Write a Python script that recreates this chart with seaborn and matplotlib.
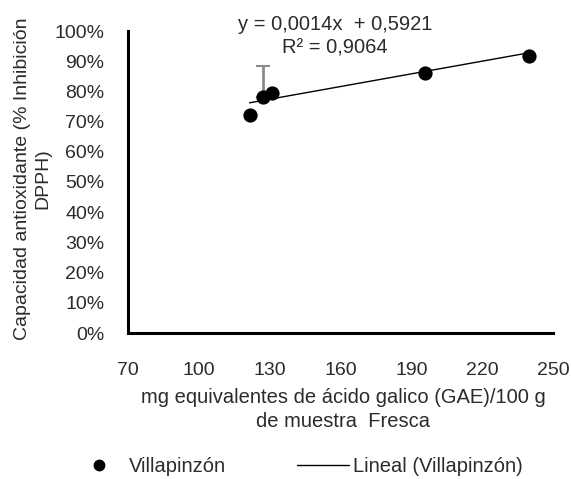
import numpy as np
import pandas as pd
import matplotlib
matplotlib.use("Agg")
import matplotlib.pyplot as plt
from matplotlib.lines import Line2D
from matplotlib.ticker import PercentFormatter
import seaborn as sns

# Polyphenol content vs antioxidant capacity (Villapinzón samples)
gae = [121.5, 127.3, 131.0, 195.8, 240.0]
inhibition = [0.722, 0.780, 0.794, 0.862, 0.917]
err_upper = [0.0, 0.105, 0.0, 0.0, 0.0]

# Linear trend reported for the series
slope = 0.0014
intercept = 0.5921
r_squared = 0.9064

x_ticks = [70, 100, 130, 160, 190, 220, 250]
y_ticks = [0.0, 0.1, 0.2, 0.3, 0.4, 0.5, 0.6, 0.7, 0.8, 0.9, 1.0]

series = "Villapinzón"
df = pd.DataFrame({"gae": gae, "inh": inhibition, "err": err_upper})

sns.set_theme(style="white")
plt.rcParams["font.family"] = ["Liberation Sans", "DejaVu Sans"]
TEXT_COLOR = "#2b2b2b"
plt.rcParams["text.color"] = TEXT_COLOR
plt.rcParams["axes.labelcolor"] = TEXT_COLOR

TICK_FS = 14
TITLE_FS = 14.5

fig = plt.figure(figsize=(5.71, 4.79), dpi=100)
ax = fig.add_axes([128 / 571, 1 - 333 / 479, 425 / 571, 302 / 479])

# Trend line drawn across the observed x range
x_fit = np.array([min(gae), max(gae)])
fit_df = pd.DataFrame({"gae": x_fit, "inh": slope * x_fit + intercept})
sns.lineplot(data=fit_df, x="gae", y="inh", ax=ax, color="black", lw=1.0,
             zorder=2, legend=False)

# Upper error bar
has_err = df[df["err"] > 0]
ax.errorbar(has_err["gae"], has_err["inh"],
            yerr=[np.zeros(len(has_err)), has_err["err"]],
            fmt="none", ecolor="#8c8c8c", elinewidth=2.0, capsize=5,
            capthick=1.5, zorder=1)

sns.scatterplot(data=df, x="gae", y="inh", ax=ax, color="black", s=105,
                edgecolor="black", linewidth=0, zorder=3, legend=False)

ax.set_xlim(70, 250)
ax.set_ylim(0, 1.0)
ax.set_xticks(x_ticks)
ax.set_yticks(y_ticks)
ax.yaxis.set_major_formatter(PercentFormatter(1.0, decimals=0))
ax.tick_params(axis="both", length=0, labelsize=TICK_FS, colors=TEXT_COLOR)
ax.tick_params(axis="y", pad=17)
ax.tick_params(axis="x", pad=21)

for side in ["top", "right"]:
    ax.spines[side].set_visible(False)
for side in ["left", "bottom"]:
    ax.spines[side].set_color("black")
    ax.spines[side].set_linewidth(2.2)
ax.grid(False)

ax.set_xlabel("mg equivalentes de ácido galico (GAE)/100 g\nde muestra  Fresca",
              fontsize=TITLE_FS, linespacing=1.3)
ax.xaxis.set_label_coords(0.506, -0.253)
ax.xaxis.label.set_va("center")
ax.set_ylabel("Capacidad antioxidante (% Inhibición\nDPPH)", fontsize=14,
              linespacing=1.25)
ax.yaxis.set_label_coords(-(128 - 33) / 425, 0.512)
ax.yaxis.label.set_va("center")

ax.text(0.487, 1.022, f"y = {slope:.4f}x  + {intercept:.4f}".replace(".", ","),
        transform=ax.transAxes, ha="center", va="center", fontsize=TITLE_FS)
ax.text(0.487, 0.944, f"R² = {r_squared:.4f}".replace(".", ","),
        transform=ax.transAxes, ha="center", va="center", fontsize=TITLE_FS)

handles = [
    Line2D([], [], marker="o", color="black", linestyle="none", markersize=7.5),
    Line2D([], [], color="black", lw=1.0),
]
fig.legend(handles, [series, f"Lineal ({series})"], loc="center",
           bbox_to_anchor=(298 / 571, 1 - 467 / 479), ncol=2, frameon=False,
           fontsize=TITLE_FS, handlelength=2.6, handletextpad=0.2,
           columnspacing=3.5)

fig.savefig("out.png", dpi=100)
